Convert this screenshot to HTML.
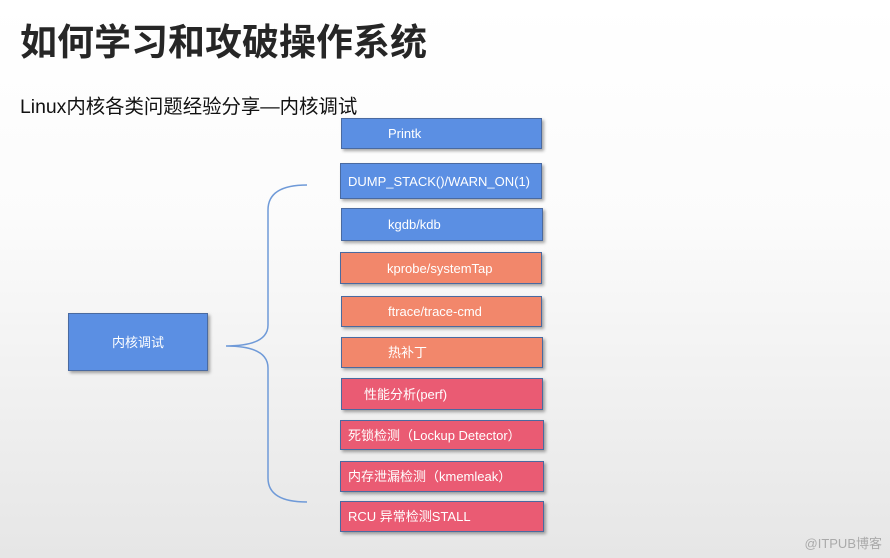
<!DOCTYPE html>
<html><head><meta charset="utf-8"><style>
body{margin:0;width:890px;height:558px;overflow:hidden;background:linear-gradient(#fff 0%,#fbfbfb 40%,#e6e6e6 100%);font-family:"Liberation Sans","Noto Sans CJK SC",sans-serif;position:relative}
.t{position:absolute;left:20px;top:12px;font-size:37px;font-weight:bold;color:#262626;white-space:nowrap}
.s{position:absolute;left:20px;top:90px;font-size:19.4px;color:#111;white-space:nowrap}
.b{position:absolute;color:#fff;font-size:13px;line-height:1;display:flex;align-items:center;box-sizing:border-box;border:1px solid #4a6aa0;box-shadow:2px 2px 3px rgba(0,0,0,.35);white-space:nowrap}
.bl{background:#5b8fe3}.or{background:#f2876b}.pk{background:#ea5b73}
.wm{position:absolute;right:8px;bottom:6px;font-size:13px;color:#aaa}
</style></head><body>
<div class="t">如何学习和攻破操作系统</div>
<div class="s">Linux内核各类问题经验分享—内核调试</div>
<div class="b bl" style="left:68px;top:313px;width:140px;height:58px;justify-content:center">内核调试</div>
<svg style="position:absolute;left:0;top:0" width="890" height="558"><path d="M307 185 Q268 185 268 210 L268 325 Q268 346 226 346 Q268 346 268 368 L268 478 Q268 502 307 502" fill="none" stroke="#6f9ad8" stroke-width="1.5"/></svg>
<div class="b bl" style="left:341px;top:118px;width:201px;height:31px;padding-left:46px">Printk</div>
<div class="b bl" style="left:340px;top:163px;width:202px;height:36px;padding-left:7px">DUMP_STACK()/WARN_ON(1)</div>
<div class="b bl" style="left:341px;top:208px;width:202px;height:33px;padding-left:46px">kgdb/kdb</div>
<div class="b or" style="left:340px;top:252px;width:202px;height:32px;padding-left:46px">kprobe/systemTap</div>
<div class="b or" style="left:341px;top:296px;width:201px;height:31px;padding-left:46px">ftrace/trace-cmd</div>
<div class="b or" style="left:341px;top:337px;width:202px;height:31px;padding-left:46px">热补丁</div>
<div class="b pk" style="left:341px;top:378px;width:202px;height:32px;padding-left:22px">性能分析(perf)</div>
<div class="b pk" style="left:340px;top:420px;width:204px;height:30px;padding-left:7px">死锁检测（Lockup Detector）</div>
<div class="b pk" style="left:340px;top:461px;width:204px;height:31px;padding-left:7px">内存泄漏检测（kmemleak）</div>
<div class="b pk" style="left:340px;top:501px;width:204px;height:31px;padding-left:7px">RCU 异常检测STALL</div>
<div class="wm">@ITPUB博客</div>
</body></html>
